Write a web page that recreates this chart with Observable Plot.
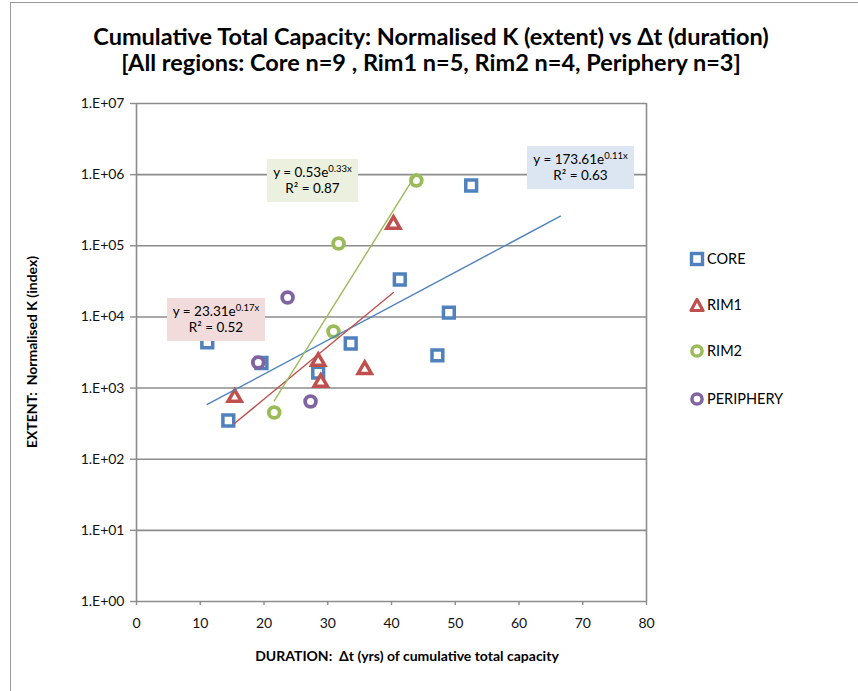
<!DOCTYPE html>
<html>
<head>
<meta charset="utf-8">
<script src="https://cdn.jsdelivr.net/npm/d3@7"></script>
<script src="https://cdn.jsdelivr.net/npm/@observablehq/plot@0.6"></script>
<style>
  body { margin: 0; background: #fff; font-family: Lato, "Liberation Sans", sans-serif; }
  #wrap { position: relative; width: 858px; height: 691px; overflow: hidden; }
  #frame { position: absolute; left: 10px; top: 2px; width: 900px; height: 720px; border-left: 1px solid #9a9a9a; border-top: 1px solid #9a9a9a; }
  #chart { position: absolute; left: 0; top: 0; }
  #chart svg text { font-size: 14px !important; fill: #111; }
  .title { position: absolute; left: 431px; transform: translateX(-50%); white-space: nowrap; font-weight: bold; color: #000; }
  .axlab { position: absolute; white-space: pre; font-weight: bold; font-size: 14px; color: #000; }
  .eq { position: absolute; text-align: center; font-size: 13.5px; line-height: 16px; color: #000; box-sizing: border-box; padding-top: 5px; }
  .eq sup { font-size: 9.5px; vertical-align: 5px; line-height: 0; }
  .leg { position: absolute; left: 689px; font-size: 14.5px; color: #000; display: flex; align-items: center; white-space: nowrap; }
  .leg svg { margin-right: 2px; }
</style>
</head>
<body>
<div id="wrap">
  <div id="frame"></div>
  <div id="chart"></div>
</div>
<script>
// ---- data ----
const seriesNames = ["CORE", "RIM1", "RIM2", "PERIPHERY"];
const seriesColors = ["#4F81BD", "#C0504D", "#9BBB59", "#8064A2"];
const seriesSymbols = ["square", "triangle", "circle", "circle"];

const coreX = [11.1, 14.4, 19.6, 28.5, 33.6, 41.3, 47.2, 49.0, 52.5];
const coreY = [4400, 350, 2250, 1650, 4230, 33600, 2880, 11500, 703000];
const rim1X = [15.4, 28.5, 28.9, 35.8, 40.3];
const rim1Y = [736, 2360, 1200, 1820, 200000];
const rim2X = [21.6, 30.9, 31.7, 43.9];
const rim2Y = [454, 6240, 107700, 828000];
const periX = [19.1, 23.7, 27.3];
const periY = [2290, 18750, 647];

// trendlines y = a * e^(b x)
const trendSeries = ["CORE", "RIM1", "RIM2"];
const trendA = [173.61, 23.31, 0.53];
const trendB = [0.11, 0.17, 0.33];
const trendR2 = [0.63, 0.52, 0.87];
const trendX0 = [11.1, 15.4, 21.6];
const trendX1 = [66.5, 40.3, 43.9];

const xTicks = [0, 10, 20, 30, 40, 50, 60, 70, 80];
const yTicks = [1, 10, 100, 1000, 10000, 100000, 1000000, 10000000];

const titleLines = [
  "Cumulative Total Capacity: Normalised K (extent) vs Δt (duration)",
  "[All regions: Core n=9 , Rim1 n=5, Rim2 n=4, Periphery n=3]"
];
const xLabel = "DURATION:  Δt (yrs) of cumulative total capacity";
const yLabel = "EXTENT:  Normalised K (index)";

// ---- build tables ----
const seriesXY = [[coreX, coreY], [rim1X, rim1Y], [rim2X, rim2Y], [periX, periY]];
const color = Object.fromEntries(seriesNames.map((s, i) => [s, seriesColors[i]]));
const trendRows = [];
trendSeries.forEach((s, i) => {
  for (const x of [trendX0[i], trendX1[i]]) trendRows.push({series: s, x, y: trendA[i] * Math.exp(trendB[i] * x)});
});

const fmt = d => "1.E+" + String(Math.round(Math.log10(d))).padStart(2, "0");
const grid = "#8c8c8c";

const marks = [
  Plot.ruleY(yTicks, {stroke: grid, strokeWidth: 1.6}),
  Plot.ruleX([0, 80], {stroke: grid, strokeWidth: 1.6}),
  Plot.axisY({ticks: yTicks, tickFormat: fmt, tickSize: 6, tickPadding: 6, stroke: grid, strokeWidth: 1.4, fontSize: 14, label: null}),
  Plot.axisX({ticks: xTicks, tickFormat: d => String(d), tickSize: 4, tickPadding: 13, stroke: grid, strokeWidth: 1.4, fontSize: 14, label: null})
];
seriesNames.forEach((s, i) => {
  const [xs, ys] = seriesXY[i];
  const rows = xs.map((x, j) => ({x, y: ys[j]}));
  const sym = seriesSymbols[i];
  marks.push(Plot.dot(rows, {
    x: "x", y: "y", symbol: sym,
    r: sym === "square" ? 6.1 : sym === "triangle" ? 4.9 : 5.4,
    stroke: seriesColors[i], strokeWidth: sym === "circle" ? 3.8 : 3.5, fill: "white"
  }));
});
trendSeries.forEach((s, i) => {
  marks.push(Plot.line(trendRows.filter(r => r.series === s), {x: "x", y: "y", stroke: color[s], strokeWidth: 1.4}));
});

const chart = Plot.plot({
  width: 858, height: 691,
  marginLeft: 136, marginRight: 212, marginTop: 103, marginBottom: 90,
  style: {fontFamily: "Lato, 'Liberation Sans', sans-serif", fontSize: "14px", color: "#000", background: "transparent", overflow: "visible"},
  x: {domain: [0, 80]},
  y: {type: "log", domain: [1, 1e7]},
  marks
});
document.getElementById("chart").appendChild(chart);

const wrap = document.getElementById("wrap");
// title: fit first line to measured width
const ctx = document.createElement("canvas").getContext("2d");
ctx.font = "bold 20px Lato";
const w = ctx.measureText(titleLines[0]).width;
const fs = 20 * 677 / w;
titleLines.forEach((t, i) => {
  const d = document.createElement("div");
  d.className = "title";
  d.style.fontSize = fs + "px";
  d.style.top = (37 + i * 26 - fs * 0.62) + "px";
  d.textContent = t;
  wrap.appendChild(d);
});

// axis labels
const xl = document.createElement("div");
xl.className = "axlab"; xl.textContent = xLabel;
xl.style.left = "407px"; xl.style.top = "647px"; xl.style.transform = "translateX(-50%)";
wrap.appendChild(xl);
const yl = document.createElement("div");
yl.className = "axlab"; yl.textContent = yLabel;
yl.style.left = "31px"; yl.style.top = "352px"; yl.style.transform = "translate(-50%,-50%) rotate(-90deg)";
wrap.appendChild(yl);

// equation boxes
const boxes = [
  {i: 0, left: 527, top: 146, w: 107, h: 43, bg: "#DCE6F2"},
  {i: 1, left: 167, top: 298, w: 98, h: 43, bg: "#F2DCDB"},
  {i: 2, left: 267, top: 159, w: 91, h: 43, bg: "#EBF1DE"}
];
boxes.forEach(b => {
  const d = document.createElement("div");
  d.className = "eq";
  Object.assign(d.style, {left: b.left + "px", top: b.top + "px", width: b.w + "px", height: b.h + "px", background: b.bg});
  d.innerHTML = `y = ${trendA[b.i].toFixed(2)}e<sup>${trendB[b.i].toFixed(2)}x</sup><br>R² = ${trendR2[b.i].toFixed(2)}`;
  wrap.appendChild(d);
});

// legend
const legY = [260, 306, 352, 400];
seriesNames.forEach((s, i) => {
  const d = document.createElement("div");
  d.className = "leg";
  d.style.top = (legY[i] - 10) + "px";
  const sym = seriesSymbols[i];
  let shape;
  if (sym === "square") shape = `<rect x="2.5" y="2.5" width="11" height="11" fill="white" stroke="${seriesColors[i]}" stroke-width="3.4"/>`;
  else if (sym === "triangle") shape = `<path d="M8,2.5 L14,13.5 L2,13.5 Z" fill="white" stroke="${seriesColors[i]}" stroke-width="3.2" stroke-linejoin="round"/>`;
  else shape = `<circle cx="8" cy="8" r="5.1" fill="white" stroke="${seriesColors[i]}" stroke-width="3.5"/>`;
  d.innerHTML = `<svg width="16" height="16">${shape}</svg><span>${s}</span>`;
  wrap.appendChild(d);
});
</script>
</body>
</html>
